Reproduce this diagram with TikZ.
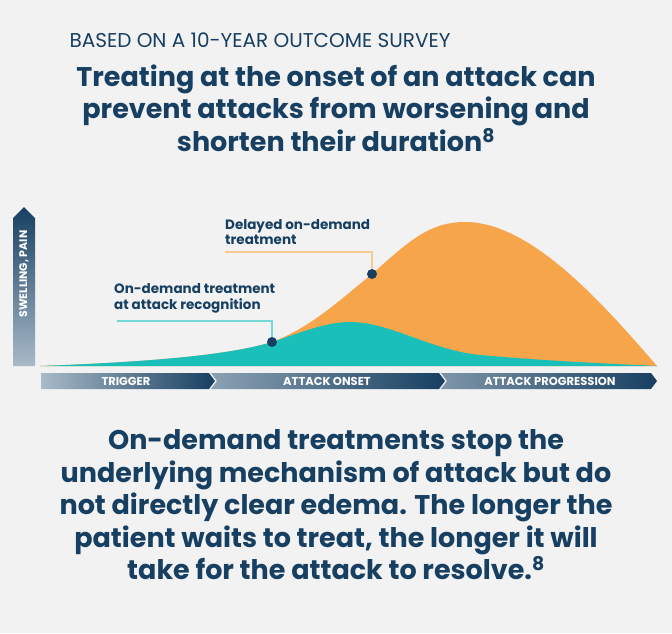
\documentclass[tikz,border=0pt]{standalone}
\usepackage{fontspec}
\setmainfont{Poppins}
\definecolor{navy}{HTML}{173F61}
\definecolor{bandlight}{HTML}{A9BAC8}
\definecolor{curveorange}{HTML}{F7A54A}
\definecolor{curveteal}{HTML}{1BBFBA}
\definecolor{bggray}{HTML}{F2F2F2}
\tikzset{
  headline/.style={text=navy, font=\bfseries\fontsize{27}{32.5}\selectfont, align=center},
  calllabel/.style={text=navy, font=\bfseries\fontsize{13.5}{15.5}\selectfont, align=left, anchor=south west, inner sep=0pt},
  bandtext/.style={text=white, font=\bfseries\fontsize{11.5}{12}\selectfont},
  dot/.style={circle, fill=navy, inner sep=0pt, minimum size=10pt}
}
\begin{document}
\begin{tikzpicture}[x=1pt,y=-1pt]
\useasboundingbox[fill=bggray] (0,0) rectangle (672,633);

% header
\node[text=navy, font=\fontsize{20}{24}\selectfont, anchor=west] (survey) at (66,40) {BASED ON A 10-YEAR OUTCOME SURVEY};
\node[headline] (title) at (336,108) {Treating at the onset of an attack can\\prevent attacks from worsening and\\shorten their duration\textsuperscript{8}};

% y axis
\shade[top color=navy, bottom color=bandlight] (13,366) -- (13,218) -- (24,207) -- (35,218) -- (35,366) -- cycle;
\node[bandtext, rotate=90, font=\bfseries\fontsize{11}{12}\selectfont] (yaxis) at (24,274) {SWELLING, PAIN};

% curves
\fill[curveorange] (40,366) .. controls (150,362) and (230,355) .. (272,342)
  .. controls (310,328) and (340,300) .. (372,274)
  .. controls (410,240) and (430,222) .. (465,222)
  .. controls (530,222) and (600,300) .. (657,366) -- cycle;
\fill[curveteal] (40,366) .. controls (150,362) and (230,355) .. (272,342)
  .. controls (300,333) and (325,322) .. (350,322)
  .. controls (390,322) and (430,350) .. (480,355)
  .. controls (560,362) and (620,364) .. (657,366) -- cycle;

% callouts
\node[dot] (early) at (272,342) {};
\node[dot] (late) at (372,274) {};
\coordinate (earlyend) at (117,321);
\coordinate (lateend) at (225,252);
\draw[curveteal!60, line width=1.5pt] (earlyend) -| (early);
\draw[curveorange!60, line width=1.5pt] (lateend) -| (late);
\node[calllabel] (earlylabel) at (114,313) {On-demand treatment\\at attack recognition};
\node[calllabel] (latelabel) at (225,245) {Delayed on-demand\\treatment};

% phase band
\shade[left color=bandlight, right color=navy] (41,373) -- (209,373) -- (215,381) -- (209,389) -- (41,389) -- cycle;
\shade[left color=bandlight!80!navy, right color=navy] (211,373) -- (439,373) -- (445,381) -- (439,389) -- (211,389) -- (217,381) -- cycle;
\shade[left color=bandlight!70!navy, right color=navy] (441,373) -- (651,373) -- (657,381) -- (651,389) -- (441,389) -- (447,381) -- cycle;
\node[bandtext] (trigger) at (126,381) {TRIGGER};
\node[bandtext] (onset) at (327,381) {ATTACK ONSET};
\node[bandtext] (progression) at (550,381) {ATTACK PROGRESSION};

% conclusion
\node[headline] (summary) at (336,505) {On-demand treatments stop the\\underlying mechanism of attack but do\\not directly clear edema. The longer the\\patient waits to treat, the longer it will\\take for the attack to resolve.\textsuperscript{8}};
\end{tikzpicture}
\end{document}
